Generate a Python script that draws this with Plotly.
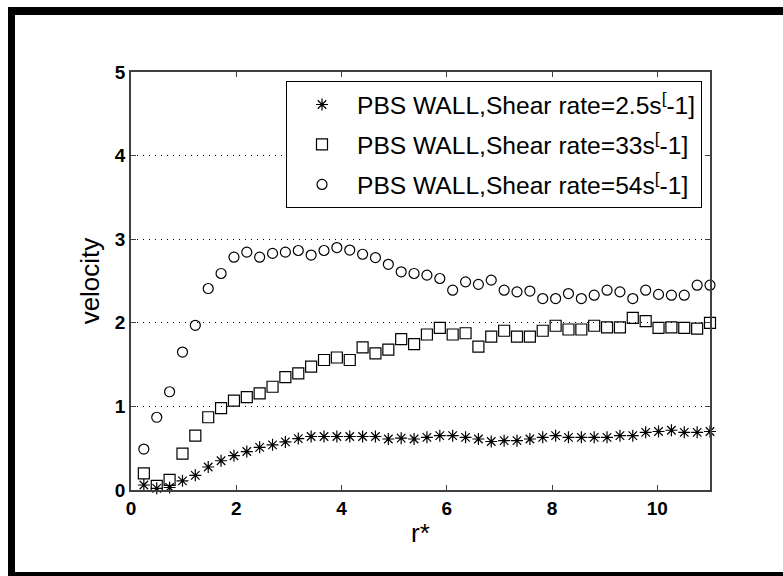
import plotly.graph_objects as go

# r* positions (evenly spaced samples)
r_star = [0.244, 0.489, 0.733, 0.978, 1.222, 1.467, 1.711, 1.956, 2.200, 2.444,
          2.689, 2.933, 3.178, 3.422, 3.667, 3.911, 4.156, 4.400, 4.644, 4.889,
          5.133, 5.378, 5.622, 5.867, 6.111, 6.356, 6.600, 6.844, 7.089, 7.333,
          7.578, 7.822, 8.067, 8.311, 8.556, 8.800, 9.044, 9.289, 9.533, 9.778,
          10.022, 10.267, 10.511, 10.756, 11.000]

v_2p5 = [0.06, 0.02, 0.03, 0.11, 0.175, 0.275, 0.35, 0.41, 0.46, 0.51,
         0.54, 0.575, 0.615, 0.64, 0.64, 0.64, 0.64, 0.64, 0.64, 0.61,
         0.62, 0.61, 0.63, 0.65, 0.65, 0.63, 0.61, 0.58, 0.59, 0.59,
         0.61, 0.63, 0.65, 0.63, 0.63, 0.63, 0.63, 0.65, 0.65, 0.69,
         0.70, 0.715, 0.69, 0.69, 0.70]

v_33 = [0.20, 0.05, 0.12, 0.435, 0.65, 0.87, 0.98, 1.07, 1.11, 1.155,
        1.235, 1.35, 1.395, 1.475, 1.555, 1.585, 1.555, 1.705, 1.635, 1.68,
        1.805, 1.745, 1.86, 1.94, 1.86, 1.875, 1.715, 1.835, 1.905, 1.835,
        1.835, 1.905, 1.965, 1.92, 1.92, 1.965, 1.945, 1.945, 2.06, 2.02,
        1.94, 1.945, 1.94, 1.93, 2.00]

v_54 = [0.49, 0.87, 1.175, 1.65, 1.97, 2.41, 2.59, 2.785, 2.845, 2.785,
        2.83, 2.845, 2.865, 2.81, 2.865, 2.90, 2.87, 2.82, 2.78, 2.70,
        2.61, 2.59, 2.57, 2.53, 2.39, 2.49, 2.46, 2.51, 2.39, 2.37,
        2.38, 2.29, 2.29, 2.35, 2.29, 2.33, 2.39, 2.37, 2.29, 2.39,
        2.34, 2.33, 2.33, 2.45, 2.45]

names = ["PBS WALL,Shear rate=2.5s<sup>[</sup>-1]",
         "PBS WALL,Shear rate=33s<sup>[</sup>-1]",
         "PBS WALL,Shear rate=54s<sup>[</sup>-1]"]
x_ticks = [0, 2, 4, 6, 8, 10]
y_ticks = [0, 1, 2, 3, 4, 5]

W, H = 783, 576
L, R, T, B = 131, 710, 72, 490
FONT = "Liberation Sans, Arial, sans-serif"

fig = go.Figure()
series = [(v_2p5, "asterisk-open", 10), (v_33, "square-open", 11), (v_54, "circle-open", 10)]
for i, (vals, sym, sz) in enumerate(series):
    fig.add_trace(go.Scatter(
        x=r_star, y=vals, mode="markers", name=names[i], legendgroup=str(i),
        marker=dict(symbol=sym, size=sz, color="black",
                    line=dict(color="black", width=1.2)),
        cliponaxis=False,
    ))

def px_x(p):
    return (p - L) / (R - L)

def px_y(p):
    return (B - p) / (B - T)

# outer black border (cut off on the right side)
border = [
    (8, 15, 7, 576),
    (8, 783, 7, 15),
    (8, 783, 572, 576),
]
for x0, x1, y0, y1 in border:
    fig.add_shape(type="rect", xref="paper", yref="paper",
                  x0=px_x(x0), x1=px_x(x1), y0=px_y(y1), y1=px_y(y0),
                  fillcolor="black", line=dict(width=0), layer="above")

axis_font = dict(family=FONT, size=19, color="black", weight="bold")
title_font = dict(family=FONT, size=26, color="black")
fig.update_layout(
    width=W, height=H,
    margin=dict(l=L, r=W - R, t=T, b=H - B, autoexpand=False),
    paper_bgcolor="white", plot_bgcolor="white",
    showlegend=True,
    legend=dict(x=px_x(286), y=px_y(81), xanchor="left", yanchor="top",
                bordercolor="black", borderwidth=1, bgcolor="white",
                font=dict(family=FONT, size=24.6, color="black"),
                tracegroupgap=5, itemwidth=60),
    xaxis=dict(range=[0, 11], tickvals=x_ticks, ticktext=[str(t) for t in x_ticks],
               ticks="inside", ticklen=5, tickcolor="#404040", tickwidth=1,
               showline=True, linecolor="#404040", linewidth=1.5, mirror="ticks",
               showgrid=False, zeroline=False, tickfont=axis_font,
               title=dict(text="r*", font=title_font, standoff=6),
               automargin=False),
    yaxis=dict(range=[0, 5], tickvals=y_ticks, ticktext=[str(t) for t in y_ticks],
               ticks="inside", ticklen=5, tickcolor="#404040", tickwidth=1,
               showline=True, linecolor="#404040", linewidth=1.5, mirror="ticks",
               showgrid=True, gridcolor="black", gridwidth=1, griddash="1px,5px",
               zeroline=False, tickfont=axis_font,
               title=dict(text="velocity", font=title_font, standoff=8),
               automargin=False),
)

fig.write_html("out.html")
